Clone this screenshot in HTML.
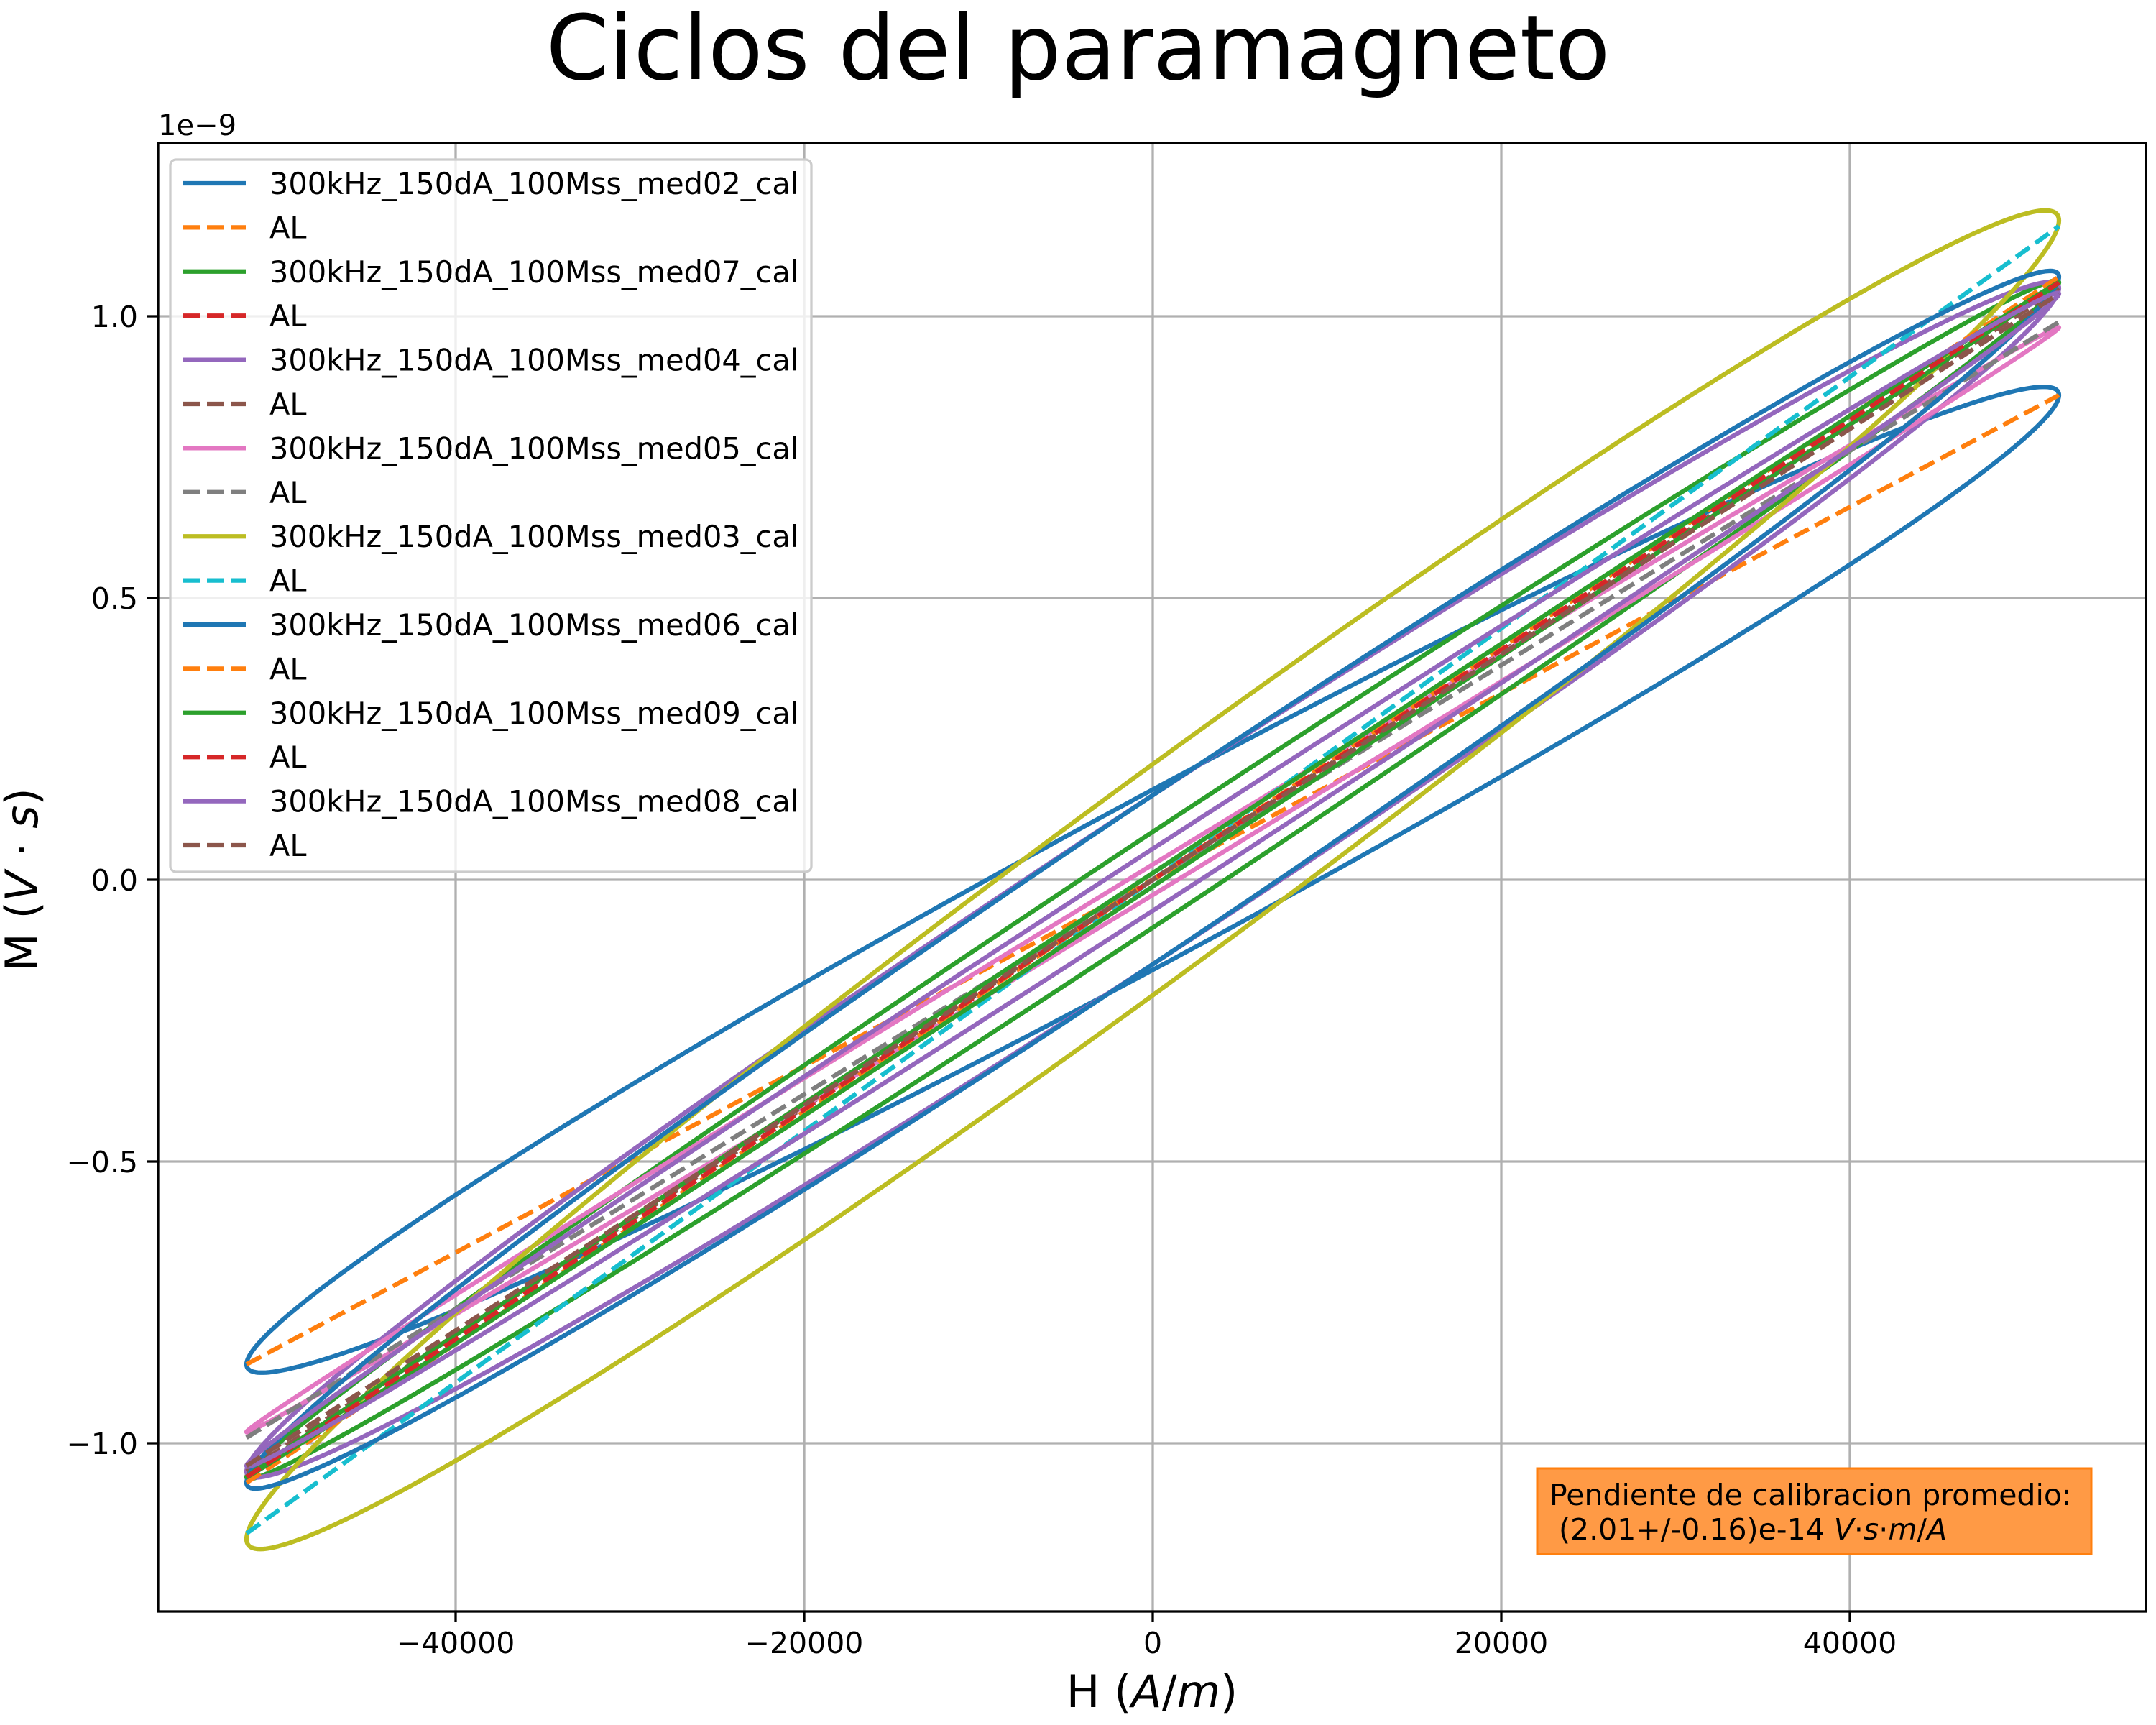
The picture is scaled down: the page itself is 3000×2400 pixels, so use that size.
<!DOCTYPE html>
<html><head><meta charset="utf-8"><style>
html,body{margin:0;padding:0;background:#fff;}
svg{display:block;font-family:"DejaVu Sans","Liberation Sans",sans-serif;}
</style></head><body>
<svg id="chart" width="3000" height="2400" viewBox="0 0 3000 2400" xmlns="http://www.w3.org/2000/svg">
<rect x="0" y="0" width="3000" height="2400" fill="#fff"/>
<text x="1500" y="110" font-size="125" text-anchor="middle">Ciclos del paramagneto</text>
<g id="grid"></g>
<g id="plot"></g>
<rect x="220" y="199" width="2766" height="2043" fill="none" stroke="#000" stroke-width="3.3"/>
<g id="ticks"></g>
<text x="220" y="188" font-size="40">1e−9</text>
<text transform="translate(52,1224) rotate(-90)" font-size="62" text-anchor="middle">M (<tspan font-style="italic">V</tspan> · <tspan font-style="italic">s</tspan>)</text>
<text x="1603" y="2375" font-size="62" text-anchor="middle">H (<tspan font-style="italic">A</tspan>/<tspan font-style="italic">m</tspan>)</text>
<g id="legend"></g>
<g>
<rect x="2139" y="2043" width="771" height="119" fill="#ff9a45" stroke="#ff7f0e" stroke-width="3"/>
<text x="2156" y="2094" font-size="41">Pendiente de calibracion promedio:</text>
<text x="2156" y="2142" font-size="41">&#160;(2.01+/-0.16)e-14 <tspan font-style="italic">V</tspan>·<tspan font-style="italic">s</tspan>·<tspan font-style="italic">m</tspan>/<tspan font-style="italic">A</tspan></text>
</g>
</svg>
<script>
const seriesNames = ["300kHz_150dA_100Mss_med02_cal","300kHz_150dA_100Mss_med07_cal","300kHz_150dA_100Mss_med04_cal","300kHz_150dA_100Mss_med05_cal","300kHz_150dA_100Mss_med03_cal","300kHz_150dA_100Mss_med06_cal","300kHz_150dA_100Mss_med09_cal","300kHz_150dA_100Mss_med08_cal"];
const loopColors = ["#1f77b4","#2ca02c","#9467bd","#e377c2","#bcbd22","#1f77b4","#2ca02c","#9467bd"];
const fitColors = ["#ff7f0e","#d62728","#8c564b","#7f7f7f","#17becf","#ff7f0e","#d62728","#8c564b"];
const hMax = [52000,52000,52000,52000,52000,52000,52000,52000];
const mTip = [0.86,1.06,1.05,0.98,1.17,1.07,1.06,1.04];
const mRemanence = [0.16,0.085,0.15,0.027,0.205,0.15,0.012,0.055];
const fitSlopeEnd = [0.86,1.07,1.05,0.99,1.16,1.07,1.06,1.04];
const xTicks = [-40000,-20000,0,20000,40000];
const xTickLabels = ["−40000","−20000","0","20000","40000"];
const yTicks = [-1.0,-0.5,0.0,0.5,1.0];
const yTickLabels = ["−1.0","−0.5","0.0","0.5","1.0"];

const NS="http://www.w3.org/2000/svg";
const X0=220,X1=2986,Y0=199,Y1=2242;
function xs(h){return 1604+h*(970/40000);}
function ys(m){return 1224-m*784;}
function mk(tag,attrs,parent){const e=document.createElementNS(NS,tag);for(const k in attrs)e.setAttribute(k,attrs[k]);parent.appendChild(e);return e;}

const grid=document.getElementById('grid'),ticks=document.getElementById('ticks'),plot=document.getElementById('plot'),legend=document.getElementById('legend');
xTicks.forEach((v,i)=>{
  const gl=mk('line',{x1:xs(v),x2:xs(v),y1:Y0,y2:Y1,stroke:'#b0b0b0','stroke-width':3.3},grid);
  
  
  const t=mk('line',{x1:xs(v),x2:xs(v),y1:Y1,y2:Y1+15,stroke:'#000','stroke-width':3.3},ticks);
  
  
  const l=mk('text',{x:xs(v),y:2300,'font-size':41,'text-anchor':'middle'},ticks);
  l.textContent=xTickLabels[i];
  
  
});
yTicks.forEach((v,i)=>{
  const gl=mk('line',{x1:X0,x2:X1,y1:ys(v),y2:ys(v),stroke:'#b0b0b0','stroke-width':3.3},grid);
  
  
  const t=mk('line',{x1:X0-15,x2:X0,y1:ys(v),y2:ys(v),stroke:'#000','stroke-width':3.3},ticks);
  
  
  const l=mk('text',{x:192,y:ys(v)+15,'font-size':41,'text-anchor':'end'},ticks);
  l.textContent=yTickLabels[i];
  
  
});

const clip=mk('clipPath',{id:'clp'},mk('defs',{},plot));
mk('rect',{x:X0,y:Y0,width:X1-X0,height:Y1-Y0},clip);
plot.setAttribute('clip-path','url(#clp)');
for(let s=0;s<seriesNames.length;s++){
  let d='';
  for(let k=0;k<=360;k++){
    const t=k*Math.PI/180;
    const h=hMax[s]*Math.cos(t);
    const m=mTip[s]*Math.cos(t)+mRemanence[s]*Math.sin(t);
    d+=(k?'L':'M')+xs(h).toFixed(1)+','+ys(m).toFixed(1);
  }
  const p=mk('path',{d:d+'Z',fill:'none',stroke:loopColors[s],'stroke-width':6.25,'stroke-linejoin':'round'},plot);
  
  
  const ln=mk('line',{x1:xs(-hMax[s]),y1:ys(-fitSlopeEnd[s]),x2:xs(hMax[s]),y2:ys(fitSlopeEnd[s]),stroke:fitColors[s],'stroke-width':6.25,'stroke-dasharray':'23 10'},plot);
  
  
}

const lb=mk('rect',{x:237,y:222,width:892,height:991,rx:8,fill:'#fff','fill-opacity':0.8,stroke:'#cccccc','stroke-width':3.3},legend);


for(let s=0;s<seriesNames.length;s++){
  for(let j=0;j<2;j++){
    const cy=255+(2*s+j)*61.4;
    const ln=mk('line',{x1:255,x2:342,y1:cy,y2:cy,stroke:j?fitColors[s]:loopColors[s],'stroke-width':6.25},legend);
    if(j)ln.setAttribute('stroke-dasharray','23 10');
    
    
    const tx=mk('text',{x:375,y:cy+15,'font-size':41.5},legend);
    tx.textContent=j?'AL':seriesNames[s];
    
    
  }
}
</script>
</body></html>
